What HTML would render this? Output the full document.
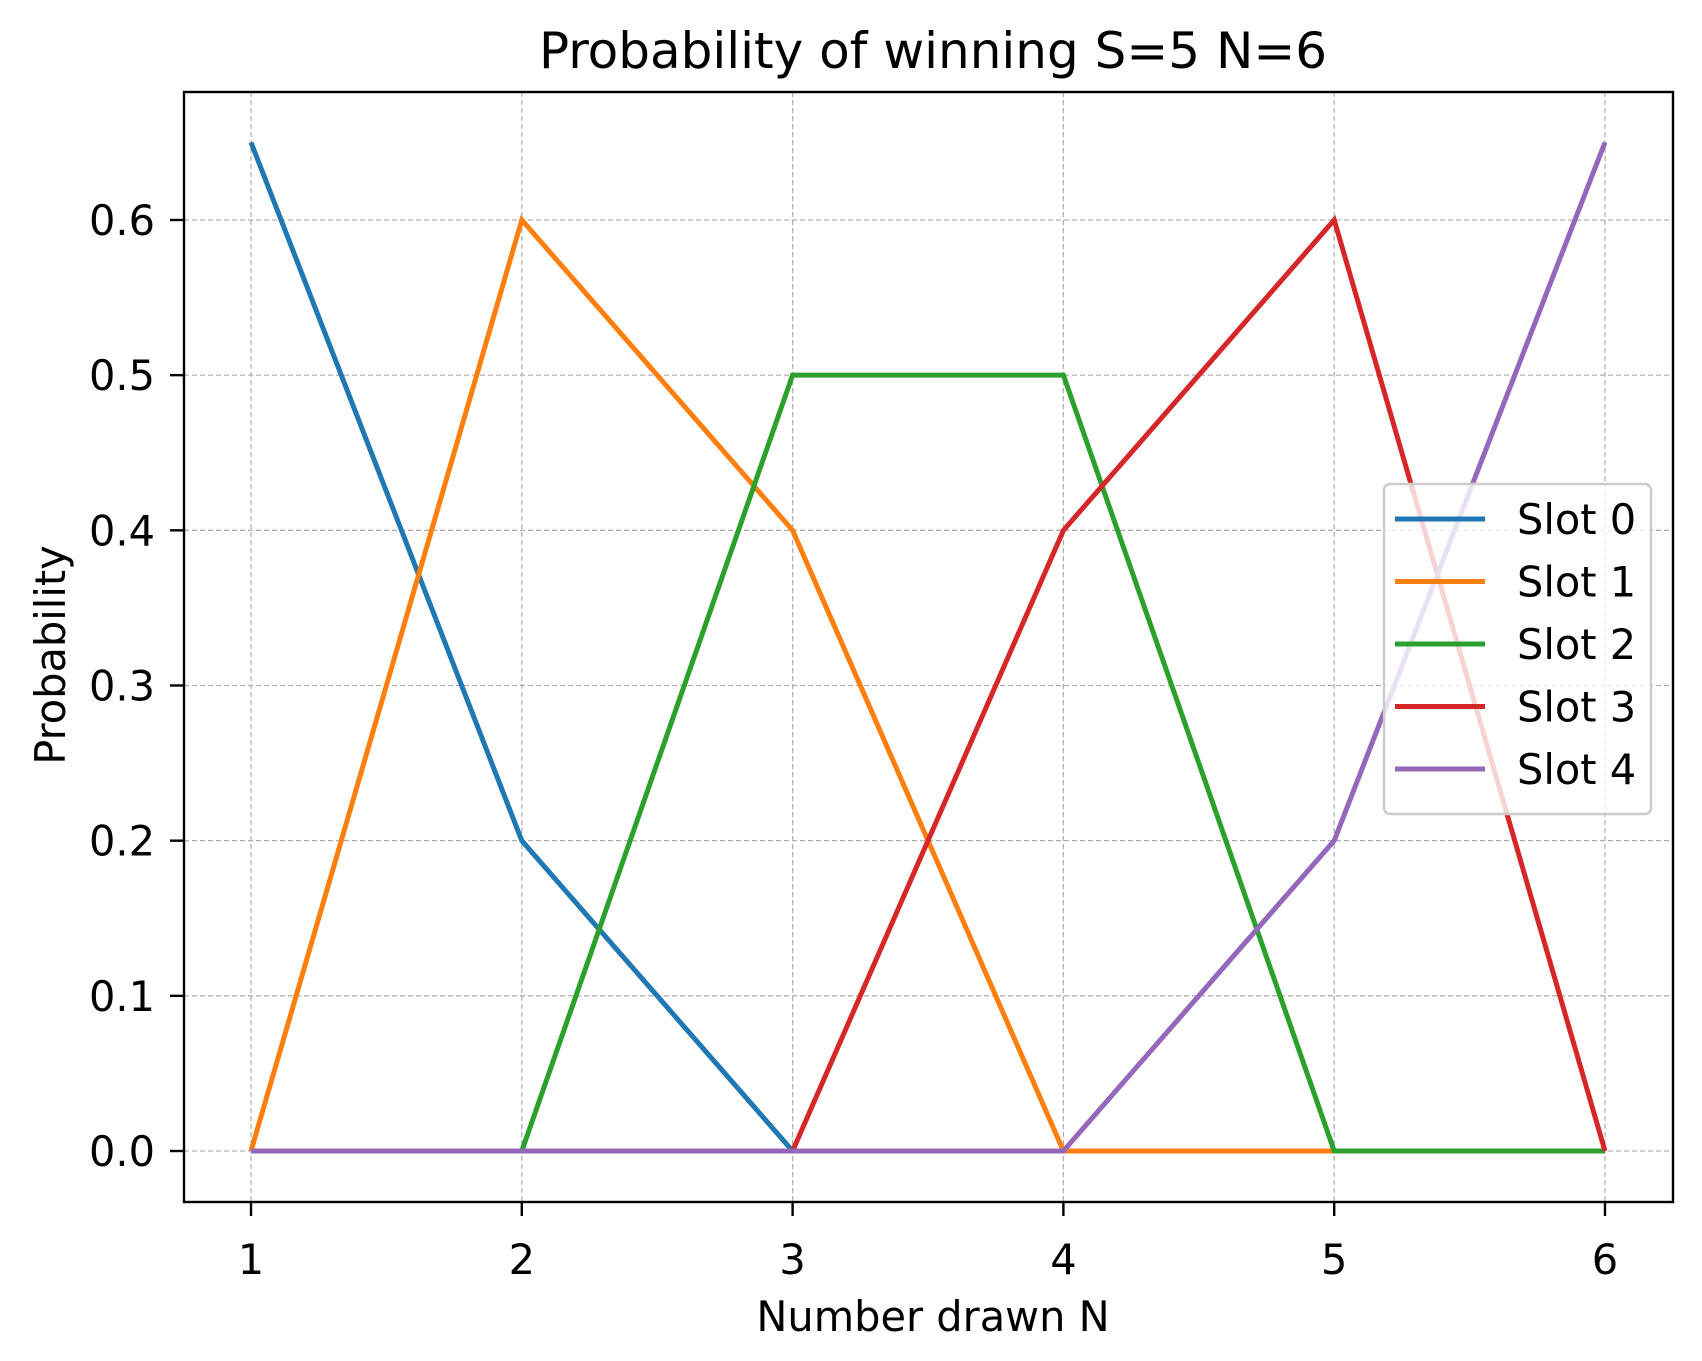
<!DOCTYPE html>
<html><head><meta charset="utf-8"><style>body{margin:0;background:#fff}svg{display:block;font-family:"DejaVu Sans","Liberation Sans",sans-serif}</style></head>
<body>
<svg id="chart" width="1702" height="1361">
<text x="933" y="68" font-size="50" text-anchor="middle">Probability of winning S=5 N=6</text>
<g id="grid"></g><g id="axes"></g><g id="series"></g>
<rect x="184" y="92" width="1489" height="1110" fill="none" stroke="#000" stroke-width="2.4"/>
<text x="933" y="1331" font-size="41.5" text-anchor="middle">Number drawn N</text>
<text x="0" y="0" font-size="41.5" text-anchor="middle" transform="translate(65,655) rotate(-90)">Probability</text>
<g id="legend"></g>
</svg>
<script>
const xs=[1,2,3,4,5,6];
const yTicks=[0,0.1,0.2,0.3,0.4,0.5,0.6];
const yTickLabels=["0.0","0.1","0.2","0.3","0.4","0.5","0.6"];
const seriesNames=["Slot 0","Slot 1","Slot 2","Slot 3","Slot 4"];
const slot0=[0.65,0.2,0,0,0,0];
const slot1=[0,0.6,0.4,0,0,0];
const slot2=[0,0,0.5,0.5,0,0];
const slot3=[0,0,0,0.4,0.6,0];
const slot4=[0,0,0,0,0.2,0.65];
const colors=["#1f77b4","#ff7f0e","#2ca02c","#d62728","#9467bd"];
const NS="http://www.w3.org/2000/svg";
function X(v){return 251+(v-1)*270.8;}
function Y(v){return 1151-v*1551.7;}
function mk(t,a,p){const e=document.createElementNS(NS,t);for(const k in a)e.setAttribute(k,a[k]);p.appendChild(e);return e;}
const grid=document.getElementById('grid'),axes=document.getElementById('axes'),ser=document.getElementById('series'),leg=document.getElementById('legend');
xs.forEach(v=>{
 const g=mk('line',{x1:X(v),x2:X(v),y1:92,y2:1202,stroke:'#b0b0b0','stroke-width':1.3,'stroke-dasharray':'5,3'},grid);
 
 
 const t=mk('line',{x1:X(v),x2:X(v),y1:1202,y2:1216,stroke:'#000','stroke-width':2.4},axes);
 
 
 const l=mk('text',{x:X(v),y:1274,'font-size':41.5,'text-anchor':'middle'},axes);l.textContent=v;
 
 
});
yTicks.forEach((v,i)=>{
 const g=mk('line',{x1:184,x2:1673,y1:Y(v),y2:Y(v),stroke:'#b0b0b0','stroke-width':1.3,'stroke-dasharray':'5,3'},grid);
 
 
 const t=mk('line',{x1:170,x2:184,y1:Y(v),y2:Y(v),stroke:'#000','stroke-width':2.4},axes);
 
 
 const l=mk('text',{x:155,y:Y(v)+15,'font-size':41.5,'text-anchor':'end'},axes);l.textContent=yTickLabels[i];
 
 
});
[slot0,slot1,slot2,slot3,slot4].forEach((d,i)=>{
 const p=mk('polyline',{points:d.map((v,j)=>X(xs[j])+','+Y(v)).join(' '),fill:'none',stroke:colors[i],'stroke-width':5},ser);
 
 
});
const box=mk('rect',{x:1384,y:484,width:267,height:330,rx:6,fill:'#fff','fill-opacity':0.8,stroke:'#cccccc','stroke-width':2.4},leg);


seriesNames.forEach((n,i)=>{
 const y=519+i*62.5;
 const l=mk('line',{x1:1395,x2:1485,y1:y,y2:y,stroke:colors[i],'stroke-width':5},leg);
 
 
 const t=mk('text',{x:1517,y:y+15,'font-size':41.5},leg);t.textContent=n;
 
 
});
</script>
</body></html>
